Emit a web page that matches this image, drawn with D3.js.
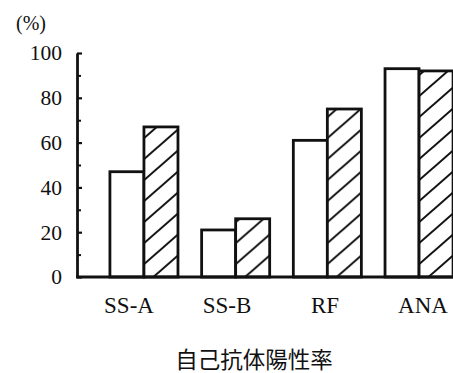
<!DOCTYPE html>
<html>
<head>
<meta charset="utf-8">
<script src="https://cdn.jsdelivr.net/npm/d3@7"></script>
<style>
  html, body { margin: 0; padding: 0; background: #fff; }
  svg { display: block; }
</style>
</head>
<body>
<svg id="chart" width="453" height="373"></svg>
<script>
// ---- data ----
const categories = ["SS-A", "SS-B", "RF", "ANA"];
const seriesNames = ["open", "hatched"];
const openValues = [47, 21, 61, 93];
const hatchedValues = [67, 26, 75, 92];
const yTickValues = [0, 20, 40, 60, 80, 100];
const yMinorTickValues = [10, 30, 50, 70, 90];
const yUnitLabel = "(%)";
const xTitle = "自己抗体陽性率";

const rows = categories.map((c, i) => ({ cat: c, open: openValues[i], hatched: hatchedValues[i] }));

const svg = d3.select("#chart");
const serif = "'Liberation Serif', 'Times New Roman', serif";

const y = d3.scaleLinear().domain([0, 100]).range([277, 53]);
const x = d3.scaleBand().domain(categories).range([87, 476]).paddingInner(0.258).paddingOuter(0.25);
const xs = d3.scaleBand().domain(seriesNames).range([0, x.bandwidth()]).padding(0);
const xLabel = d3.scalePoint().domain(categories).range([129, 423]);

// hatch pattern
const W = 24, H = 21;
const defs = svg.append("defs");
const pat = defs.append("pattern").attr("id", "hatch")
  .attr("patternUnits", "userSpaceOnUse").attr("width", W).attr("height", H);
pat.append("rect").attr("width", W).attr("height", H).attr("fill", "#fff");
pat.append("path")
  .attr("d", `M0,${H} L${W},0 M${-W/2},${H/2} L${W/2},${-H/2} M${W/2},${3*H/2} L${3*W/2},${H/2}`)
  .attr("stroke", "#111").attr("stroke-width", 2).attr("fill", "none");

// bars
const g = svg.append("g");
const groups = g.selectAll("g.grp").data(rows).join("g")
  .attr("class", "grp")
  .attr("transform", d => `translate(${x(d.cat)},0)`);
groups.selectAll("rect").data(d => seriesNames.map(s => ({ s, v: d[s] }))).join("rect")
  .attr("x", d => xs(d.s))
  .attr("y", d => y(d.v))
  .attr("width", xs.bandwidth())
  .attr("height", d => y(0) - y(d.v))
  .attr("fill", d => d.s === "hatched" ? "url(#hatch)" : "#fff")
  .attr("stroke", "#111")
  .attr("stroke-width", 2.8);

// y axis
const yAxis = d3.axisLeft(y).tickValues(yTickValues).tickSizeInner(-5).tickSizeOuter(0).tickPadding(15);
const ya = svg.append("g").attr("transform", "translate(77,0)").call(yAxis);
ya.select(".domain").attr("stroke", "#111").attr("stroke-width", 2.8);
ya.selectAll(".tick line").attr("stroke", "#111").attr("stroke-width", 2.2);
ya.selectAll(".tick text").attr("font-family", serif).attr("font-size", 21.5).attr("fill", "#111");

const yMinor = d3.axisLeft(y).tickValues(yMinorTickValues).tickSizeInner(-4).tickSizeOuter(0).tickFormat("");
const ym = svg.append("g").attr("transform", "translate(77,0)").call(yMinor);
ym.select(".domain").remove();
ym.selectAll(".tick line").attr("stroke", "#111").attr("stroke-width", 2);

// baseline
svg.append("line")
  .attr("x1", 76).attr("x2", 453)
  .attr("y1", y(0)).attr("y2", y(0))
  .attr("stroke", "#111").attr("stroke-width", 2.8);

// x labels
svg.append("g").selectAll("text").data(categories).join("text")
  .attr("x", d => xLabel(d))
  .attr("y", 313)
  .attr("text-anchor", "middle")
  .attr("font-family", serif)
  .attr("font-size", 23)
  .attr("fill", "#111")
  .text(d => d);

// unit label
svg.append("text")
  .attr("x", 16).attr("y", 30)
  .attr("font-family", serif).attr("font-size", 20).attr("fill", "#111")
  .text(yUnitLabel);

// title
svg.append("text")
  .attr("x", 254).attr("y", 368)
  .attr("text-anchor", "middle")
  .attr("font-family", "'Noto Sans CJK JP', 'Noto Sans CJK SC', sans-serif")
  .attr("font-size", 22.5)
  .attr("fill", "#111")
  .text(xTitle);
</script>
</body>
</html>
